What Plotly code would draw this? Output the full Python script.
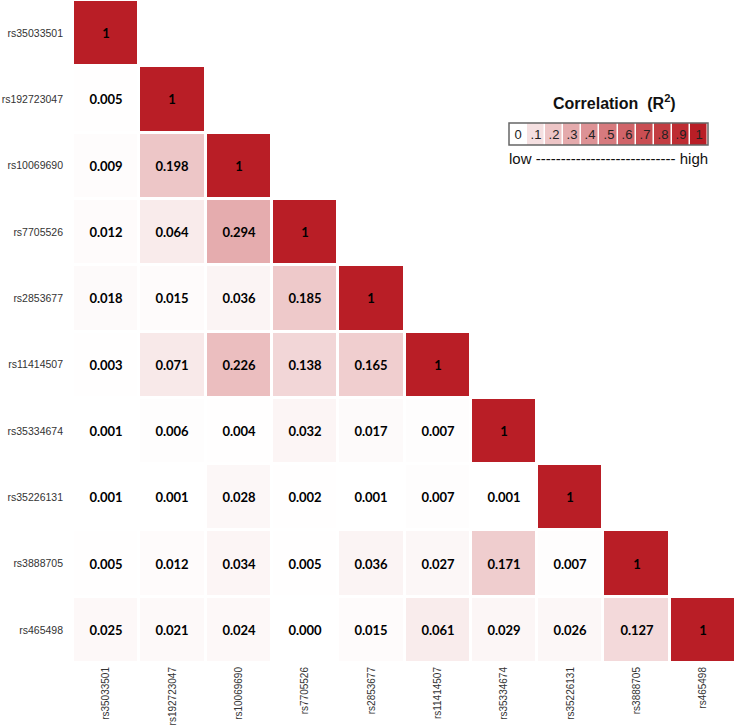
import plotly.graph_objects as go

snps = ["rs35033501", "rs192723047", "rs10069690", "rs7705526", "rs2853677",
        "rs11414507", "rs35334674", "rs35226131", "rs3888705", "rs465498"]

r2_rs35033501 = [1]
r2_rs192723047 = [0.005, 1]
r2_rs10069690 = [0.009, 0.198, 1]
r2_rs7705526 = [0.012, 0.064, 0.294, 1]
r2_rs2853677 = [0.018, 0.015, 0.036, 0.185, 1]
r2_rs11414507 = [0.003, 0.071, 0.226, 0.138, 0.165, 1]
r2_rs35334674 = [0.001, 0.006, 0.004, 0.032, 0.017, 0.007, 1]
r2_rs35226131 = [0.001, 0.001, 0.028, 0.002, 0.001, 0.007, 0.001, 1]
r2_rs3888705 = [0.005, 0.012, 0.034, 0.005, 0.036, 0.027, 0.171, 0.007, 1]
r2_rs465498 = [0.025, 0.021, 0.024, 0.000, 0.015, 0.061, 0.029, 0.026, 0.127, 1]

rows = [r2_rs35033501, r2_rs192723047, r2_rs10069690, r2_rs7705526, r2_rs2853677,
        r2_rs11414507, r2_rs35334674, r2_rs35226131, r2_rs3888705, r2_rs465498]

legend_values = [0, 0.1, 0.2, 0.3, 0.4, 0.5, 0.6, 0.7, 0.8, 0.9, 1]
legend_labels = ["0", ".1", ".2", ".3", ".4", ".5", ".6", ".7", ".8", ".9", "1"]

n = len(snps)
z = []
txt = []
for r in rows:
    zr = list(r) + [None] * (n - len(r))
    tr = [("1" if v == 1 else f"{v:.3f}") for v in r] + [" "] * (n - len(r))
    z.append(zr)
    txt.append(tr)

colorscale = [
    [0.0, "rgb(255,255,255)"],
    [0.01, "rgb(254,252,252)"],
    [0.03, "rgb(252,246,246)"],
    [0.06, "rgb(249,236,236)"],
    [0.1, "rgb(245,224,225)"],
    [0.2, "rgb(237,197,198)"],
    [0.3, "rgb(228,170,172)"],
    [0.5, "rgb(214,122,126)"],
    [0.7, "rgb(201,78,83)"],
    [0.85, "rgb(192,52,58)"],
    [1.0, "rgb(185,30,38)"],
]

fig = go.Figure()
fig.add_trace(go.Heatmap(
    x=snps, y=snps, z=z, text=txt, texttemplate="%{text}",
    textfont=dict(family="Lato", size=13, color="black", weight="bold"),
    colorscale=colorscale, zmin=0, zmax=1, showscale=False,
    xgap=3, ygap=3, hoverinfo="skip",
))

fig.add_trace(go.Heatmap(
    x=legend_labels, y=["k"], z=[legend_values], text=[legend_labels],
    texttemplate="%{text}",
    textfont=dict(family="Arial, Liberation Sans", size=13, color="#222"),
    colorscale=colorscale, zmin=0, zmax=1, showscale=False,
    xgap=1.5, ygap=0, hoverinfo="skip", xaxis="x2", yaxis="y2",
))

L = 73
H = 663
lx0, lx1 = (509 - L) / 663, (708 - L) / 663
ly0, ly1 = (H - 145) / H, (H - 123) / H

fig.update_layout(
    width=736, height=726,
    margin=dict(l=L, r=0, t=0, b=63, autoexpand=False),
    plot_bgcolor="white", paper_bgcolor="white",
    font=dict(family="Arial, Liberation Sans", size=11, color="#333"),
    xaxis=dict(domain=[0, 1], showgrid=False, zeroline=False, showline=False,
               tickangle=-90, ticks="", automargin=False, ticklabelstandoff=1,
               tickfont=dict(size=10, color="#333")),
    yaxis=dict(domain=[0, 1], autorange="reversed", showgrid=False, zeroline=False,
               showline=False, ticks="", ticklabelstandoff=9, automargin=False,
               tickfont=dict(size=10.5, color="#333")),
    xaxis2=dict(domain=[lx0, lx1], anchor="y2", visible=False),
    yaxis2=dict(domain=[ly0, ly1], anchor="x2", visible=False),
    shapes=[dict(type="rect", xref="paper", yref="paper", x0=lx0, x1=lx1, y0=ly0, y1=ly1,
                 line=dict(color="#666", width=1.5))],
    annotations=[
        dict(text="<b>Correlation  (R<sup>2</sup>)</b>", xref="paper", yref="paper",
             x=(614 - L) / 663, y=(H - 102) / H, showarrow=False,
             font=dict(size=16, color="#111"), xanchor="center", yanchor="middle"),
        dict(text="low ---------------------------- high", xref="paper", yref="paper",
             x=(608 - L) / 663, y=(H - 158) / H, showarrow=False,
             font=dict(size=15, color="#111"), xanchor="center", yanchor="middle"),
    ],
)

fig.write_html("out.html", config={"displayModeBar": False},
               post_script="document.body.style.margin='0px';")
